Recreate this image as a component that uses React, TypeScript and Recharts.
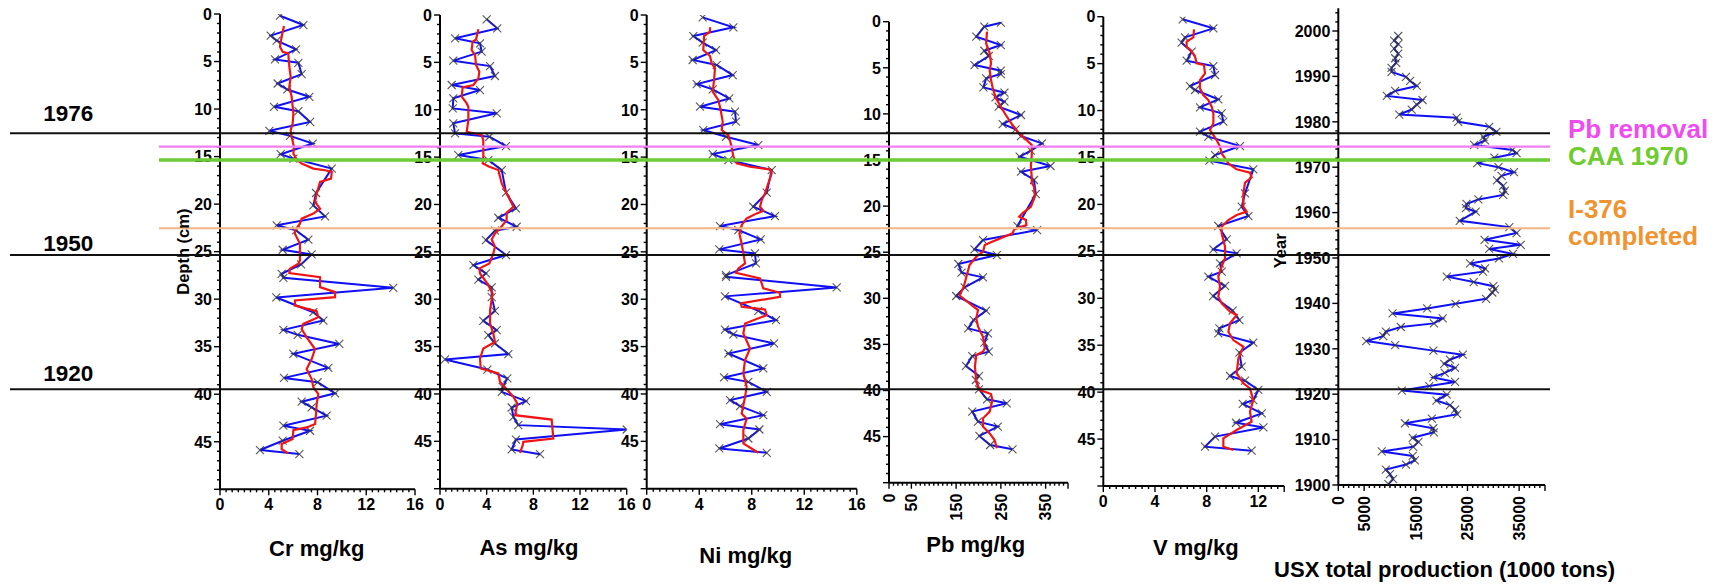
import React from 'react';
import { ScatterChart, Scatter, XAxis, YAxis, ReferenceLine } from 'recharts';

const W = 1726;
const H = 587;
const FONT = '"Liberation Sans", Arial, Helvetica, sans-serif';
const BLUE = '#1010f5';
const RED = '#f01515';
const YAXIS_W = 60;
const XAXIS_H = 40;

// ---- data: [depth (cm), value] ----
const crRaw: [number, number][] = [[0.18,4.92],[1.16,6.84],[2.28,4.16],[2.81,4.65],[3.72,6.24],[4.78,4.51],[5.13,6.43],[6.32,6.7],[7.31,4.73],[7.94,5.52],[8.71,7.33],[9.76,4.43],[10.22,6.43],[11.35,7.39],[12.29,4.05],[12.82,5.74],[13.63,7.61],[14.75,4.98],[15.21,6.02],[16.26,9.17],[18.83,7.88],[20.13,7.66],[21.29,8.62],[22.23,4.65],[22.76,6.24],[23.74,7.25],[24.8,5.14],[25.29,7.52],[26.34,6.65],[27.33,5.06],[27.75,5.2],[28.8,14.22],[29.82,4.62],[31.37,7.66],[32.25,8.48],[33.23,5.2],[33.75,6.37],[34.71,9.79],[35.75,6.02],[37.23,8.89],[38.28,5.25],[38.74,8.01],[39.9,9.44],[40.78,6.7],[41.38,7.52],[42.25,8.75],[43.31,5.2],[43.84,7.39],[44.89,5.14],[45.87,3.28],[46.29,6.51]];
const crSmooth: [number, number][] = [[1.26,5.25],[2.39,5.06],[3.44,4.92],[3.97,5.14],[4.14,5.6],[5.55,5.69],[6.6,5.8],[7.66,5.69],[8.71,5.88],[10.47,6.02],[11.52,5.96],[12.22,5.8],[12.93,5.88],[13.98,6.07],[14.68,6.02],[15.31,6.29],[15.74,6.7],[16.26,7.66],[16.44,8.62],[16.61,9.17],[17.32,9.11],[17.67,8.21],[18.9,7.93],[19.78,7.8],[20.48,8.21],[21.0,7.66],[21.53,6.7],[22.06,6.56],[22.76,6.15],[23.11,6.15],[24.17,6.56],[25.92,6.56],[26.27,6.43],[26.8,5.74],[27.26,5.69],[27.68,8.21],[28.73,8.21],[29.26,9.44],[29.79,9.44],[30.14,6.15],[30.67,6.15],[31.27,7.93],[31.9,8.07],[32.6,6.84],[33.14,6.7],[34.01,7.11],[35.24,7.8],[36.3,7.52],[37.35,7.11],[38.4,7.52],[39.28,7.66],[39.98,8.07],[41.03,7.93],[42.08,7.88],[43.14,7.8],[43.49,7.11],[43.77,6.02],[44.72,5.96],[45.24,5.06],[45.77,5.06],[46.22,5.6]];

const asRaw: [number, number][] = [[0.46,4.0],[1.41,4.91],[2.46,1.29],[2.99,3.43],[3.87,3.57],[4.82,1.14],[5.39,4.29],[6.44,4.71],[7.39,1.0],[7.92,3.43],[8.8,1.14],[9.86,1.09],[10.38,4.86],[11.44,1.14],[12.5,1.29],[12.85,4.23],[13.83,5.66],[14.78,1.57],[15.31,4.14],[16.37,5.29],[18.76,5.66],[20.41,6.51],[21.4,5.0],[22.35,6.57],[22.77,4.71],[23.76,3.94],[25.34,5.66],[26.4,2.86],[27.28,3.94],[27.92,3.29],[28.76,4.43],[29.78,4.43],[31.22,4.71],[32.28,3.71],[33.26,4.86],[33.79,4.14],[34.67,4.71],[35.79,5.86],[36.36,0.43],[37.42,4.06],[38.36,5.77],[39.25,5.37],[39.78,5.29],[40.76,7.37],[41.43,6.14],[42.42,6.29],[43.29,6.71],[43.75,16.0],[44.81,6.51],[45.86,6.14],[46.36,8.57]];
const asSmooth: [number, number][] = [[1.51,3.29],[2.57,3.09],[2.82,2.8],[3.7,2.71],[4.22,3.0],[5.28,3.09],[5.98,3.37],[6.69,3.29],[7.39,2.86],[7.64,1.94],[8.63,1.86],[9.33,2.29],[9.68,2.43],[11.09,2.43],[12.32,2.29],[12.67,3.57],[13.2,3.71],[14.96,3.71],[15.66,3.66],[16.02,4.23],[16.37,5.0],[17.78,5.29],[18.83,5.71],[20.24,6.29],[20.87,5.71],[21.65,5.71],[22.53,5.14],[23.06,4.71],[23.69,4.43],[24.46,4.71],[25.17,4.57],[26.23,4.23],[26.76,3.37],[27.28,3.43],[28.34,4.06],[29.4,4.51],[31.15,4.29],[32.56,4.29],[33.61,4.57],[34.5,4.71],[35.2,3.71],[36.26,3.43],[37.31,3.49],[37.84,5.0],[38.72,5.14],[39.43,5.66],[40.31,6.29],[41.01,6.63],[42.24,6.43],[42.7,9.57],[44.7,9.71],[45.05,7.14],[45.4,7.09],[46.22,6.86]];

const niRaw: [number, number][] = [[0.25,4.26],[1.3,6.6],[2.22,3.55],[2.92,4.26],[3.7,5.28],[4.75,3.5],[5.28,5.33],[6.34,6.55],[7.29,3.81],[7.85,5.03],[8.8,6.29],[9.68,4.06],[10.21,6.73],[11.26,6.8],[12.14,4.31],[12.85,6.04],[13.73,8.5],[14.68,5.03],[15.31,6.22],[16.37,9.52],[18.76,9.14],[20.24,8.12],[21.22,9.77],[22.28,5.58],[22.7,6.98],[23.69,8.68],[24.74,5.53],[25.17,8.25],[26.22,8.32],[27.45,6.04],[27.63,6.04],[28.76,14.47],[29.7,5.96],[31.22,8.5],[32.2,9.85],[33.2,5.96],[33.72,6.6],[34.67,9.7],[35.73,6.22],[37.31,8.88],[38.26,5.89],[38.72,7.74],[39.77,9.14],[40.65,6.35],[41.28,7.11],[42.24,8.88],[43.19,5.58],[43.75,8.58],[44.7,7.74],[45.75,5.53],[46.21,9.14]];
const niSmooth: [number, number][] = [[1.3,4.82],[1.76,4.82],[2.22,4.37],[3.7,4.31],[4.33,4.82],[5.1,4.95],[5.63,5.2],[6.86,5.13],[8.1,5.03],[8.98,5.46],[10.03,5.63],[11.26,5.79],[12.14,5.71],[12.67,6.22],[13.9,6.47],[14.96,6.6],[15.66,6.85],[16.02,7.87],[16.3,9.39],[16.72,9.52],[17.78,9.26],[18.83,9.01],[19.54,8.76],[20.24,8.63],[20.66,8.88],[20.94,8.38],[21.47,7.61],[22.18,7.23],[23.06,7.06],[24.11,7.23],[25.17,7.36],[26.22,7.49],[26.75,6.98],[27.21,6.8],[27.81,8.63],[28.86,8.88],[29.32,10.15],[29.74,10.15],[30.44,7.16],[30.8,7.23],[31.08,9.01],[31.68,9.14],[32.56,7.49],[33.62,7.36],[35.2,7.87],[36.43,7.49],[37.84,7.36],[39.25,7.61],[40.31,7.49],[42.07,7.23],[42.59,7.61],[43.82,7.36],[45.22,7.36],[46.21,8.5]];

const pbRaw: [number, number][] = [[0.11,250],[0.54,213],[1.63,195],[2.53,250],[3.15,213],[3.72,223],[4.7,191],[5.31,250],[5.68,250],[6.15,217],[7.12,211],[7.7,258],[8.21,238],[8.68,258],[9.22,245],[10.12,295],[11.1,254],[11.68,283],[12.4,295],[13.2,342],[13.99,317],[14.64,292],[15.65,361],[16.27,295],[17.17,324],[18.69,328],[22.16,287],[22.6,331],[23.68,210],[24.69,191],[25.31,241],[26.28,155],[27.22,162],[27.73,210],[28.81,169],[29.75,150],[31.34,217],[32.35,189],[33.26,177],[33.8,221],[34.81,213],[35.79,223],[36.26,186],[37.34,172],[38.43,201],[38.86,194],[39.87,201],[40.96,219],[41.39,263],[42.29,186],[43.38,199],[43.92,243],[44.93,202],[45.91,226],[46.38,276]];
const pbSmooth: [number, number][] = [[1.08,219],[2.35,217],[3.43,225],[4.52,228],[5.24,225],[6.33,228],[7.23,232],[8.32,239],[9.22,250],[10.12,261],[11.21,276],[12.11,291],[12.76,306],[13.38,319],[14.46,319],[15.73,317],[16.81,319],[17.46,319],[17.9,324],[18.98,326],[20.07,317],[20.79,298],[21.15,291],[21.51,306],[22.05,307],[22.52,280],[22.96,276],[23.97,225],[24.22,214],[24.95,210],[25.49,195],[26.39,180],[27.66,173],[28.74,167],[29.7,158],[30.72,184],[31.27,199],[32.17,195],[33.08,199],[34.17,210],[35.43,214],[35.79,210],[36.15,195],[37.41,192],[39.04,195],[39.95,203],[40.38,228],[41.03,231],[42.29,225],[43.02,210],[43.92,210],[44.65,225],[45.37,236],[46.27,241]];

const vRaw: [number, number][] = [[0.28,6.14],[1.24,8.52],[2.2,6.32],[2.77,6.06],[3.73,6.84],[4.69,6.45],[5.26,8.52],[6.21,8.65],[7.39,6.71],[7.81,7.1],[8.81,8.9],[9.66,7.48],[10.3,9.16],[11.19,9.29],[12.25,7.48],[12.78,8.13],[13.78,10.58],[14.74,8.65],[15.34,8.21],[16.26,11.61],[18.82,10.97],[20.24,10.71],[21.24,11.23],[22.3,8.9],[23.72,9.55],[24.79,8.52],[25.21,10.32],[26.28,9.03],[27.17,9.16],[27.7,8.13],[28.69,9.42],[29.76,8.5],[31.32,10.01],[32.32,10.53],[33.2,8.98],[33.74,8.9],[34.73,11.61],[35.79,10.53],[37.29,10.71],[38.28,9.81],[38.78,10.97],[39.77,12.0],[40.84,11.61],[41.26,10.79],[42.26,12.26],[43.26,10.27],[43.76,12.39],[44.74,8.65],[45.81,7.87],[46.24,11.48]];
const vSmooth: [number, number][] = [[1.35,7.02],[2.2,6.97],[2.66,6.45],[3.2,6.45],[3.55,6.76],[4.26,7.1],[4.97,7.23],[5.15,7.79],[6.04,7.87],[6.75,7.48],[7.63,7.48],[8.35,7.74],[8.88,8.13],[9.59,8.39],[10.3,8.52],[11.36,8.52],[12.07,8.26],[12.61,8.52],[13.14,8.77],[13.85,9.03],[14.56,9.16],[15.09,9.42],[15.63,9.68],[16.26,10.32],[16.62,11.35],[17.12,11.48],[17.68,10.97],[18.82,10.84],[20.24,10.84],[20.77,11.1],[21.13,10.32],[21.66,9.68],[22.37,9.16],[23.08,9.16],[24.5,9.42],[25.75,9.42],[26.63,9.16],[27.7,8.9],[28.76,9.03],[29.83,8.9],[30.54,9.16],[31.43,9.81],[31.78,10.32],[32.67,9.81],[33.56,9.68],[34.45,10.06],[35.16,10.84],[36.41,10.45],[38.01,10.32],[39.06,10.84],[39.6,11.35],[40.84,11.61],[42.09,11.35],[43.15,11.48],[44.04,10.32],[44.93,9.29],[45.82,9.29],[46.17,10.06]];

// ---- USX production: [year, 1000 tons] ----
const usxRaw: [number, number][] = [[1998.9,11600],[1997.9,10800],[1997.1,11600],[1996.1,10800],[1995.0,11600],[1994.0,11000],[1993.0,11200],[1991.9,10300],[1991.0,10300],[1989.9,13100],[1989.0,13900],[1987.9,15200],[1986.8,11000],[1985.7,9400],[1984.8,16300],[1983.8,15200],[1982.7,14200],[1981.6,11800],[1980.9,22900],[1980.0,23200],[1978.9,29200],[1977.8,30600],[1976.7,28100],[1975.9,28400],[1974.9,26300],[1973.8,33700],[1973.1,34500],[1972.1,30200],[1970.9,26900],[1970.0,31000],[1968.9,34000],[1968.1,31600],[1967.1,30700],[1965.9,31900],[1964.8,32200],[1963.9,31900],[1962.9,27100],[1961.9,24800],[1961.0,24700],[1960.2,26600],[1958.2,23500],[1956.8,33100],[1955.5,34500],[1954.0,28300],[1952.9,35300],[1952.0,29200],[1950.9,33800],[1949.9,31100],[1948.8,25500],[1947.7,28400],[1947.0,28000],[1945.9,21000],[1944.7,26200],[1943.8,30000],[1943.1,30300],[1942.4,29800],[1941.0,28600],[1939.9,22700],[1938.9,17200],[1937.8,10500],[1936.7,20200],[1935.6,18500],[1934.8,12100],[1933.8,9200],[1932.8,8700],[1931.7,5400],[1930.8,11000],[1929.6,18400],[1928.7,24100],[1927.6,21600],[1926.7,20500],[1925.8,22600],[1924.7,20600],[1923.7,18400],[1922.7,22600],[1921.8,17600],[1920.8,12300],[1919.9,21000],[1918.6,19000],[1917.6,21600],[1916.6,22600],[1915.6,23000],[1914.6,18100],[1913.6,12900],[1912.5,18400],[1911.6,18500],[1910.4,14400],[1909.5,15500],[1908.4,14500],[1907.4,8400],[1906.4,14400],[1905.4,14800],[1904.5,13100],[1903.4,9200],[1902.4,10000],[1901.3,10600],[1900.2,9700]];

// ---- tick labels ----
const depthLabels = [0, 5, 10, 15, 20, 25, 30, 35, 40, 45];
const conc16Labels = [0, 4, 8, 12, 16];
const pbLabels = [0, 50, 150, 250, 350];
const vLabels = [0, 4, 8, 12];
const yearLabels = [1900, 1910, 1920, 1930, 1940, 1950, 1960, 1970, 1980, 1990, 2000];
const usxLabels = [0, 5000, 15000, 25000, 35000];

// ---- event lines (depth, on the shared depth scale) ----
const dateLines = [
  { d: 12.55, label: '1976' },
  { d: 25.35, label: '1950' },
  { d: 39.48, label: '1920' },
];
const eventLines = [
  { d: 13.96, color: '#f27ff2', width: 2.2 },
  { d: 15.36, color: '#6bcc35', width: 3.5 },
  { d: 22.54, color: '#f3b585', width: 2 },
];

const range = (a: number, b: number, s: number) => {
  const n = Math.round((b - a) / s);
  return Array.from({ length: n + 1 }, (_, i) => +(a + i * s).toFixed(6));
};
const toPts = (arr: [number, number][]) => arr.map(([d, v]) => ({ d, v }));
const has = (arr: number[], v: number) => arr.some((m) => Math.abs(m - v) < 1e-6);

const XMark = (props: any) => {
  const { cx, cy } = props;
  if (cx == null || cy == null) return <g />;
  const s = 4;
  return (
    <path
      d={`M${cx - s},${cy - s}L${cx + s},${cy + s}M${cx - s},${cy + s}L${cx + s},${cy - s}`}
      stroke="#3a3a3a"
      strokeOpacity={0.85}
      strokeWidth={1.1}
      fill="none"
    />
  );
};
const NoMark = () => <g />;

const tickText = { fontFamily: FONT, fontWeight: 700, fontSize: 16, fill: '#000' } as const;

function makeXTick(labels: number[], majors: number[], rotate: boolean) {
  return (props: any) => {
    const { x, y, payload } = props;
    const v = payload.value;
    const isLabel = has(labels, v);
    const isMajor = isLabel || has(majors, v);
    const len = isMajor ? 6 : 3;
    return (
      <g>
        <line x1={x} y1={y} x2={x} y2={y + len} stroke="#000" strokeWidth={1.4} />
        {isLabel &&
          (rotate ? (
            <text transform={`translate(${x},${y + 11}) rotate(-90)`} textAnchor="end" dy="0.36em" {...tickText}>
              {v}
            </text>
          ) : (
            <text x={x} y={y + 21} textAnchor="middle" {...tickText}>
              {v}
            </text>
          ))}
      </g>
    );
  };
}

function makeYTick(labels: number[], majors: number[]) {
  return (props: any) => {
    const { x, y, payload } = props;
    const v = payload.value;
    const isLabel = has(labels, v);
    const isMajor = isLabel || has(majors, v);
    const len = isMajor ? 6 : 3;
    return (
      <g>
        <line x1={x - len} y1={y} x2={x} y2={y} stroke="#000" strokeWidth={1.4} />
        {isLabel && (
          <text x={x - 8} y={y} dy="0.36em" textAnchor="end" {...tickText}>
            {v}
          </text>
        )}
      </g>
    );
  };
}

type Panel = {
  id: string;
  raw: [number, number][];
  smooth?: [number, number][];
  left: number;
  right: number;
  top: number;
  bottom: number;
  xDomain: [number, number];
  xLabels: number[];
  xStep: number;
  xRotate: boolean;
  yDomain: [number, number];
  yLabels: number[];
  yStep: number;
  yReversed: boolean;
};

const depthPanel = (
  id: string,
  raw: [number, number][],
  smooth: [number, number][],
  left: number,
  right: number,
  top: number,
  bottom: number,
  xDomain: [number, number],
  xLabels: number[],
  xStep: number,
  xRotate = false
): Panel => ({
  id, raw, smooth, left, right, top, bottom, xDomain, xLabels, xStep, xRotate,
  yDomain: [0, 50], yLabels: depthLabels, yStep: 1, yReversed: true,
});

const panels: Panel[] = [
  depthPanel('cr', crRaw, crSmooth, 220, 415, 14, 489.3, [0, 16], conc16Labels, 0.5),
  depthPanel('as', asRaw, asSmooth, 440, 626.7, 15, 488.7, [0, 16], conc16Labels, 0.5),
  depthPanel('ni', niRaw, niSmooth, 646.7, 856.8, 15, 488.7, [0, 16], conc16Labels, 0.5),
  depthPanel('pb', pbRaw, pbSmooth, 889, 1068, 21.7, 482.7, [0, 400], pbLabels, 10, true),
  depthPanel('v', vRaw, vSmooth, 1103.3, 1284.2, 16.7, 486, [0, 14], vLabels, 0.5),
  {
    id: 'usx', raw: usxRaw, left: 1338.3, right: 1545, top: 8.3, bottom: 485,
    xDomain: [0, 40000], xLabels: usxLabels, xStep: 1000, xRotate: true,
    yDomain: [1900, 2005], yLabels: yearLabels, yStep: 2, yReversed: false,
  },
];

function PanelChart({ p }: { p: Panel }) {
  const xTicks = range(p.xDomain[0], p.xDomain[1], p.xStep);
  const yTicks = p.yReversed ? range(p.yDomain[0], p.yDomain[1], p.yStep) : range(p.yDomain[0], 2004, p.yStep);
  const xMajors = [p.xDomain[1]];
  const yMajors = p.yReversed ? [p.yDomain[1]] : [];
  return (
    <ScatterChart
      width={W}
      height={H}
      margin={{ left: p.left - YAXIS_W, right: W - p.right, top: p.top, bottom: H - p.bottom - XAXIS_H }}
    >
      <XAxis
        type="number"
        dataKey="v"
        domain={p.xDomain}
        allowDataOverflow
        ticks={xTicks}
        interval={0}
        height={XAXIS_H}
        tickSize={0}
        tickMargin={0}
        tickLine={false}
        axisLine={{ stroke: '#000', strokeWidth: 2 }}
        tick={makeXTick(p.xLabels, xMajors, p.xRotate)}
      />
      <YAxis
        type="number"
        dataKey="d"
        domain={p.yDomain}
        allowDataOverflow
        reversed={p.yReversed}
        ticks={yTicks}
        interval={0}
        width={YAXIS_W}
        tickSize={0}
        tickMargin={0}
        tickLine={false}
        axisLine={{ stroke: '#000', strokeWidth: 2 }}
        tick={makeYTick(p.yLabels, yMajors)}
      />
      <Scatter
        data={toPts(p.raw)}
        line={{ stroke: BLUE, strokeWidth: 2 }}
        lineType="joint"
        shape={XMark}
        isAnimationActive={false}
      />
      {p.smooth && (
        <Scatter
          data={toPts(p.smooth)}
          line={{ stroke: RED, strokeWidth: 2.2 }}
          lineType="joint"
          shape={NoMark}
          isAnimationActive={false}
        />
      )}
    </ScatterChart>
  );
}

// overlay: horizontal event/date lines across all panels (Cr depth scale)
const LINE_LEFT = 10;
const LINE_RIGHT = 1550;
const EVENT_START = (159 - LINE_LEFT) / (LINE_RIGHT - LINE_LEFT);

function LinesOverlay() {
  return (
    <ScatterChart
      width={W}
      height={H}
      margin={{ left: LINE_LEFT, right: W - LINE_RIGHT, top: 14, bottom: H - 489.3 }}
    >
      <XAxis hide type="number" dataKey="x" domain={[0, 1]} allowDataOverflow />
      <YAxis hide type="number" dataKey="y" domain={[0, 50]} reversed allowDataOverflow />
      <Scatter data={[{ x: 0, y: 0 }]} shape={NoMark} isAnimationActive={false} />
      {eventLines.map((e) => (
        <ReferenceLine
          key={e.d}
          segment={[{ x: EVENT_START, y: e.d }, { x: 1, y: e.d }]}
          stroke={e.color}
          strokeWidth={e.width}
        />
      ))}
      {dateLines.map((e) => (
        <ReferenceLine key={e.label} y={e.d} stroke="#111" strokeWidth={2} />
      ))}
    </ScatterChart>
  );
}

const abs: React.CSSProperties = { position: 'absolute', left: 0, top: 0 };
const bold = { fontFamily: FONT, fontWeight: 700 } as const;

export default function App() {
  return (
    <div style={{ position: 'absolute', left: 0, top: 0, width: W, height: H, background: '#fff', overflow: 'hidden' }}>
      {panels.map((p) => (
        <div key={p.id} style={abs}>
          <PanelChart p={p} />
        </div>
      ))}
      <div style={abs}>
        <LinesOverlay />
      </div>
      <svg width={W} height={H} style={{ ...abs, pointerEvents: 'none' }}>
        <text x={316.8} y={556} textAnchor="middle" fontSize={22} {...bold}>Cr mg/kg</text>
        <text x={529} y={555} textAnchor="middle" fontSize={22} {...bold}>As mg/kg</text>
        <text x={745.8} y={562.5} textAnchor="middle" fontSize={22} {...bold}>Ni mg/kg</text>
        <text x={975.8} y={551.7} textAnchor="middle" fontSize={22} {...bold}>Pb mg/kg</text>
        <text x={1195.8} y={555} textAnchor="middle" fontSize={22} {...bold}>V mg/kg</text>
        <text x={1444.6} y={576.5} textAnchor="middle" fontSize={22} {...bold}>USX total production (1000 tons)</text>
        <text transform="translate(188.5,251.7) rotate(-90)" textAnchor="middle" fontSize={16.5} {...bold}>Depth (cm)</text>
        <text transform="translate(1286,250.8) rotate(-90)" textAnchor="middle" fontSize={16.5} {...bold}>Year</text>
        <text x={43.3} y={120.7} fontSize={22.5} {...bold}>{dateLines[0].label}</text>
        <text x={43.3} y={250.7} fontSize={22.5} {...bold}>{dateLines[1].label}</text>
        <text x={43.3} y={380.7} fontSize={22.5} {...bold}>{dateLines[2].label}</text>
        <text x={1568} y={138.3} fontSize={26} fill="#ee4cee" {...bold}>Pb removal</text>
        <text x={1568} y={165} fontSize={26} fill="#6fcc30" {...bold}>CAA 1970</text>
        <text x={1568} y={218.3} fontSize={26} fill="#f09431" {...bold}>I-376</text>
        <text x={1568} y={244.5} fontSize={26} fill="#f09431" {...bold}>completed</text>
      </svg>
    </div>
  );
}
